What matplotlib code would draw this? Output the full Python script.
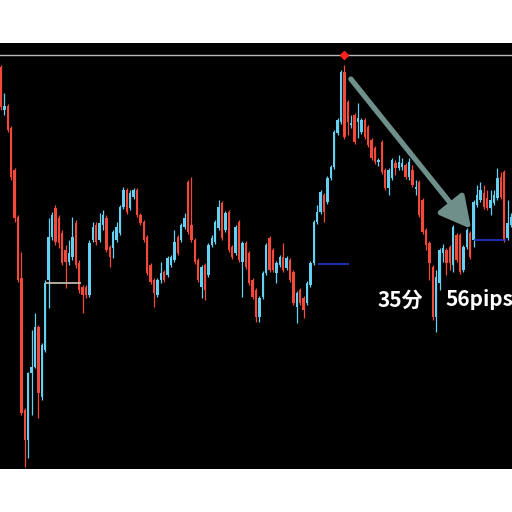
import numpy as np
import matplotlib.pyplot as plt

# price data (chart points), one entry per candle
opens = [403, 360, 364, 342, 300, 253, 192, 60, 30, 97, 103, 143, 73, 120, 190, 233, 262, 252, 237, 220,
         208, 213, 247, 207, 183, 183, 175, 230, 245, 230, 245, 252, 223, 222, 230, 237, 263, 280, 262, 273,
         280, 255, 248, 233, 205, 190, 175, 190, 198, 195, 205, 210, 233, 230, 243, 288, 245, 230, 210, 183,
         205, 195, 225, 228, 242, 267, 240, 258, 223, 217, 248, 208, 227, 217, 190, 180, 153, 173, 197, 232,
         220, 197, 205, 213, 202, 210, 198, 163, 180, 172, 167, 185, 207, 248, 258, 275, 268, 292, 303, 337,
         348, 398, 368, 345, 355, 348, 338, 350, 343, 330, 322, 308, 328, 300, 282, 292, 307, 302, 303, 305,
         293, 300, 281, 288, 270, 240, 227, 203, 153, 187, 217, 220, 223, 205, 235, 235, 200, 223, 237, 230,
         265, 270, 277, 272, 262, 267, 272, 293, 298, 232, 245]
closes = [363, 364, 340, 293, 252, 190, 57, 30, 97, 103, 143, 77, 125, 187, 233, 255, 228, 227, 207, 208,
          217, 233, 205, 180, 175, 175, 227, 243, 228, 247, 255, 220, 213, 238, 243, 263, 280, 258, 277, 280,
          255, 247, 230, 197, 188, 177, 190, 197, 190, 212, 213, 228, 217, 245, 252, 238, 230, 208, 190, 203,
          180, 225, 232, 248, 263, 232, 257, 220, 213, 243, 210, 227, 203, 187, 173, 153, 172, 197, 225, 200,
          200, 207, 213, 200, 212, 190, 167, 177, 167, 160, 187, 207, 248, 258, 278, 258, 292, 303, 338, 350,
          398, 333, 348, 347, 328, 352, 350, 333, 325, 312, 308, 310, 298, 282, 300, 310, 302, 308, 307, 293,
          308, 285, 283, 255, 238, 225, 207, 153, 193, 220, 222, 207, 207, 243, 210, 198, 223, 240, 213, 268,
          275, 280, 263, 262, 270, 275, 292, 273, 230, 247, 253]
highs = [405, 377, 366, 344, 302, 255, 218, 62, 98, 140, 157, 145, 127, 190, 252, 258, 265, 255, 240, 225,
         230, 253, 250, 210, 185, 185, 230, 248, 248, 257, 260, 255, 225, 240, 248, 265, 283, 282, 280, 282,
         282, 257, 250, 235, 207, 192, 192, 208, 200, 214, 215, 240, 235, 247, 257, 290, 293, 232, 212, 205,
         207, 227, 235, 250, 270, 269, 259, 260, 225, 245, 250, 229, 229, 219, 192, 182, 174, 199, 227, 234,
         222, 209, 215, 227, 214, 212, 200, 179, 182, 174, 189, 209, 250, 265, 280, 277, 294, 305, 340, 352,
         400, 405, 370, 355, 357, 367, 352, 352, 345, 332, 324, 312, 330, 302, 302, 312, 310, 315, 312, 307,
         312, 305, 290, 290, 272, 242, 229, 205, 200, 222, 226, 222, 225, 245, 237, 237, 225, 242, 239, 270,
         285, 288, 285, 280, 280, 280, 302, 298, 300, 270, 257]
lows = [360, 355, 338, 290, 248, 188, 55, 3, 12, 55, 102, 52, 70, 118, 162, 230, 225, 222, 205, 182,
        205, 210, 202, 177, 157, 172, 173, 228, 225, 228, 240, 218, 203, 212, 228, 235, 261, 256, 260, 271,
        253, 245, 228, 195, 186, 163, 173, 187, 188, 193, 203, 208, 215, 228, 241, 236, 228, 206, 188, 172,
        170, 193, 223, 226, 240, 230, 238, 218, 211, 215, 208, 173, 201, 185, 171, 148, 148, 171, 195, 198,
        198, 187, 203, 198, 200, 188, 165, 147, 165, 152, 165, 183, 205, 246, 256, 248, 266, 290, 301, 335,
        346, 331, 335, 342, 326, 332, 336, 331, 323, 310, 306, 304, 296, 280, 275, 290, 295, 300, 300, 291,
        290, 283, 275, 253, 236, 220, 190, 150, 138, 180, 208, 195, 200, 198, 208, 196, 198, 221, 211, 223,
        263, 268, 261, 260, 255, 265, 270, 271, 228, 230, 243]

top_line = 415.5
peak_idx = 101
support_a = 206
support_b = 230
base_line = 187
label_time = '35分'
label_pips = '56pips'

opens = np.array(opens)
closes = np.array(closes)
highs = np.array(highs)
lows = np.array(lows)
idx = np.arange(len(opens))
up = closes >= opens

red = '#f2493b'
blue = '#66d0f2'
colors = np.where(up, blue, red)

fig = plt.figure(figsize=(5.12, 5.12), dpi=100)
fig.patch.set_facecolor('white')
ax = fig.add_axes([0, 43 / 512, 1, 426 / 512])
ax.set_facecolor('black')

# wicks and bodies
ax.vlines(idx, lows, highs, colors=colors, lw=0.9, zorder=2)
bottom = np.minimum(opens, closes)
height = np.maximum(np.abs(closes - opens), 1.5)
ax.bar(idx, height, bottom=bottom, width=0.74, color=colors, lw=0, zorder=3)

ax.axhline(top_line, color='#b8b8b8', lw=1, zorder=1)
ax.plot(peak_idx, top_line, marker='D', color='#ff2020', ms=4, zorder=4)
ax.hlines(support_a, 93.3, 102.3, color='#2535d8', lw=1.2, zorder=4)
ax.hlines(support_b, 139, 148.5, color='#2535d8', lw=1.2, zorder=4)
ax.hlines(base_line, 13.2, 23.5, color='#c8c8b8', lw=1.2, zorder=4)

ax.annotate('', xy=(138.3, 241), xytext=(102.9, 391),
            arrowprops=dict(arrowstyle='-|>,head_length=0.95,head_width=0.5',
                            color='#6f8f8b', lw=3.8, mutation_scale=20,
                            shrinkA=0, shrinkB=0),
            zorder=5)

ax.text(117.4, 170, label_time, color='white', fontsize=15, fontweight='bold',
        family=['Noto Sans CJK JP', 'DejaVu Sans'], ha='center', va='center', zorder=6)
ax.text(130.6, 170, label_pips, color='white', fontsize=15, fontweight='bold',
        family=['Noto Sans CJK JP', 'DejaVu Sans'], ha='left', va='center', zorder=6)

ax.set_xlim(-0.3, 150.3)
ax.set_ylim(1, 427)
ax.set_xticks([])
ax.set_yticks([])
for s in ax.spines.values():
    s.set_visible(False)

fig.savefig('out.png', dpi=100, facecolor='white')
